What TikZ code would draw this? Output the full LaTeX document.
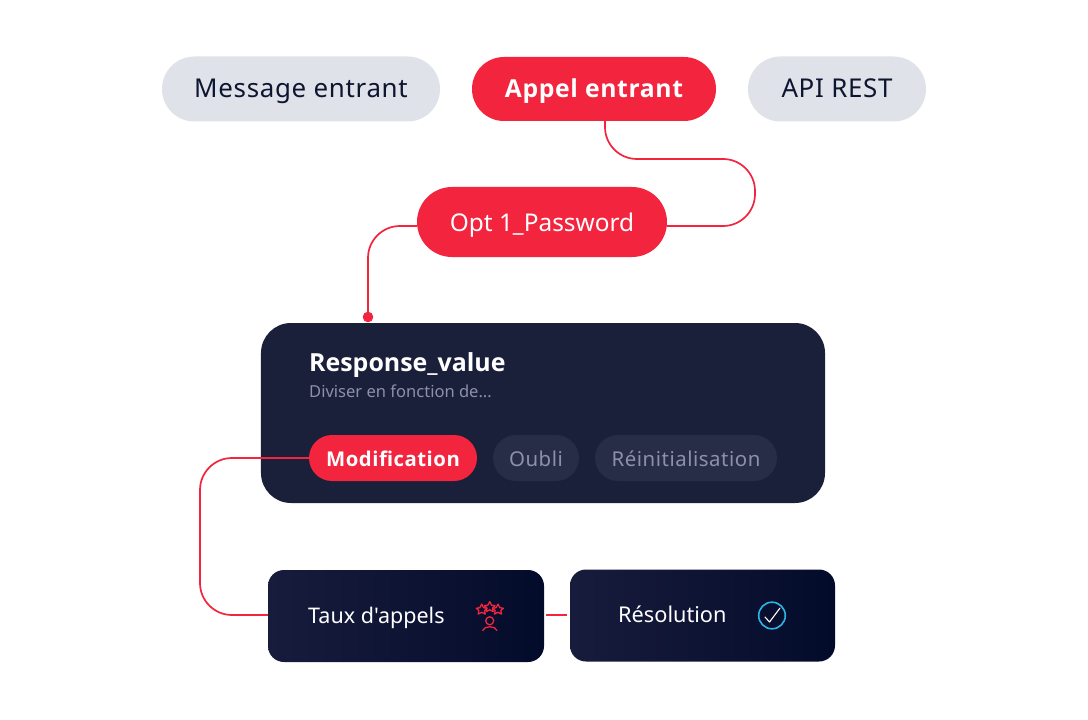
\documentclass[tikz,border=0pt]{standalone}
\usepackage{fontspec}
\setmainfont{Noto Sans}
\newfontfamily\plainf{Noto Sans}
\newfontfamily\spaced[LetterSpace=2.6]{Noto Sans}
\newfontfamily\boldf{Open Sans}
\newfontfamily\boldsp[LetterSpace=2.6]{Open Sans}
\definecolor{redc}{HTML}{F2243E}
\definecolor{grayp}{HTML}{DFE2E8}
\definecolor{inkc}{HTML}{0E1530}
\definecolor{panel}{HTML}{1B203A}
\definecolor{chip}{HTML}{282D47}
\definecolor{chiptxt}{HTML}{8C90A8}
\definecolor{cyanc}{HTML}{2CB5E6}
\definecolor{tileL}{HTML}{181C3C}
\definecolor{tileR}{HTML}{030B2B}
\tikzset{
  x=1bp,y=-1bp,
  pill/.style={rectangle,inner sep=0pt,minimum height=#1*1bp,rounded corners=#1*0.4999bp},
  link/.style={draw=redc,line width=1.7bp,rounded corners=32bp},
  tile/.style={rectangle,inner sep=0pt,rounded corners=16bp,minimum height=92bp,left color=tileL,right color=tileR},
  biglabel/.style={text height=18bp,text depth=0pt},
  smalllabel/.style={text height=16bp,text depth=0pt},
}
\begin{document}
\begin{tikzpicture}
\useasboundingbox (0,0) rectangle (1088,720);
\fill[white] (0,0) rectangle (1088,720);
% top pills
\node[pill=65,biglabel,fill=grayp,minimum width=278bp,text=inkc] (msg) at (301,89) {\fontsize{26}{30}\selectfont\spaced Message entrant};
\node[pill=64,biglabel,fill=redc,minimum width=244bp,text=white] (call) at (594,89) {\fontsize{24.8}{30}\selectfont\boldsp\bfseries Appel entrant};
\node[pill=65,biglabel,fill=grayp,minimum width=178bp,text=inkc] (api) at (837,89) {\fontsize{26}{30}\selectfont\spaced API REST};
\node[pill=70,biglabel,fill=redc,minimum width=250bp,text=white] (opt) at (542,222) {\fontsize{24.5}{30}\selectfont Opt 1\_Password};
% panel
\node[rectangle,inner sep=0pt,fill=panel,minimum width=564bp,minimum height=180bp,rounded corners=30bp] (panelbox) at (543,413) {};
\node[anchor=base west,inner sep=0pt,text=white] (rv) at (309,371) {\fontsize{25}{28}\selectfont\boldf\bfseries Response\_value};
\node[anchor=base west,inner sep=0pt,text=chiptxt] (sub) at (309,397) {\fontsize{16.6}{18}\selectfont Diviser en fonction de...};
\node[pill=46,smalllabel,fill=redc,minimum width=168bp,text=white] (mod) at (393,458) {\fontsize{20.4}{26}\selectfont\boldsp\bfseries Modification};
\node[pill=46,smalllabel,fill=chip,minimum width=86bp,text=chiptxt] (oubli) at (536,458) {\fontsize{20.5}{26}\selectfont\spaced Oubli};
\node[pill=46,smalllabel,fill=chip,minimum width=182bp,text=chiptxt] (reinit) at (686,458) {\fontsize{20.5}{26}\selectfont\spaced Réinitialisation};
% tiles
\node[tile,minimum width=276bp] (taux) at (406,616) {};
\node[anchor=base west,inner sep=0pt,text=white] (tauxt) at (308,623) {\fontsize{21.6}{26}\selectfont\plainf Taux d'appels};
\node[tile,minimum width=265bp] (res) at (702.5,615.5) {};
\node[anchor=base west,inner sep=0pt,text=white] (rest) at (618,622.5) {\fontsize{21.8}{26}\selectfont Résolution};
% connector anchors
\coordinate (dot) at (368,317);
\fill[redc] (dot) circle (5.3);
\draw[link] (call.south -| 605,121) -- (605,159) -- (755,159) -- (755,226) -- (opt.east |- 0,226);
\draw[link] (opt.west |- 0,226) -- (368,226) -- (dot);
\draw[link] (mod.west) -- (200,458) -- (200,615) -- (taux.west |- 0,615);
\draw[draw=redc,line width=1.7bp,shorten <=2bp,shorten >=3bp] (taux.east |- 0,615) -- (res.west |- 0,615);
% rating icon
\begin{scope}[draw=redc,line width=1.3bp,line join=round]
\foreach \cx/\cy/\r in {481.7/609.5/5.4,489.7/607/5.4,498/609.5/5.4}{
 \draw (\cx,\cy-\r) -- ++(0.35*\r,0.67*\r) -- ++(0.65*\r,0.1*\r) -- ++(-0.47*\r,0.43*\r) -- ++(0.12*\r,0.65*\r) -- ++(-0.65*\r,-0.33*\r) -- ++(-0.65*\r,0.33*\r) -- ++(0.12*\r,-0.65*\r) -- ++(-0.47*\r,-0.43*\r) -- ++(0.65*\r,-0.1*\r) -- cycle;
}
\draw (489.7,620.8) circle (4);
\draw[line cap=round] (482.7,630.5) .. controls (484,625.5) and (495.5,625.5) .. (497,630.5);
\end{scope}
% check icon
\draw[cyanc,line width=1.6bp] (772,615.5) circle (13.3);
\draw[white,line width=1.1bp,line cap=round,line join=round] (765,617) -- (769.5,622) -- (780,608);
\end{tikzpicture}
\end{document}
